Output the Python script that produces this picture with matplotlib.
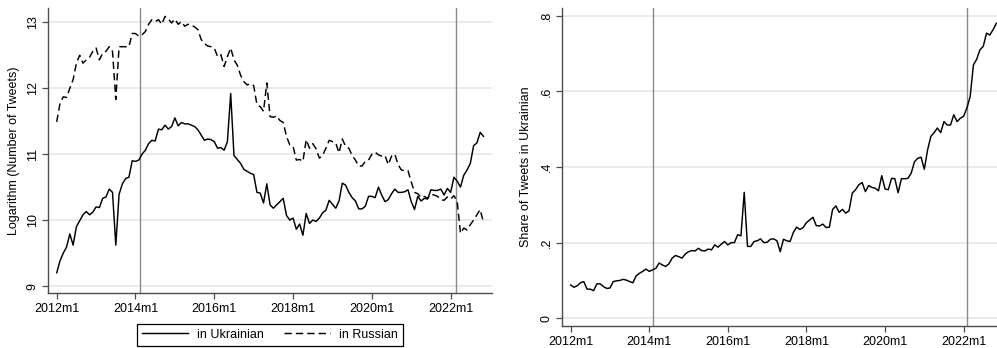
import matplotlib
matplotlib.use("Agg")
import matplotlib.pyplot as plt
import numpy as np

# monthly data, 2012m1 .. 2022m11 (month index 0..130)
log_ukr = [9.20, 9.38, 9.50, 9.59, 9.79, 9.62, 9.90, 9.99, 10.08, 10.13,
           10.08, 10.12, 10.20, 10.19, 10.33, 10.35, 10.47, 10.42, 9.62, 10.39,
           10.55, 10.63, 10.65, 10.90, 10.89, 10.91, 11.00, 11.06, 11.16, 11.21,
           11.20, 11.38, 11.37, 11.44, 11.38, 11.42, 11.55, 11.43, 11.48, 11.46,
           11.46, 11.44, 11.42, 11.37, 11.29, 11.21, 11.23, 11.22, 11.19, 11.09,
           11.10, 11.06, 11.19, 11.92, 10.98, 10.92, 10.86, 10.77, 10.74, 10.71,
           10.69, 10.42, 10.41, 10.26, 10.55, 10.23, 10.18, 10.23, 10.28, 10.33,
           10.07, 10.00, 10.03, 9.86, 9.94, 9.77, 10.10, 9.95, 10.00, 9.98,
           10.03, 10.11, 10.15, 10.30, 10.24, 10.18, 10.29, 10.56, 10.53, 10.42,
           10.34, 10.29, 10.17, 10.17, 10.21, 10.36, 10.36, 10.34, 10.50, 10.38,
           10.28, 10.31, 10.40, 10.47, 10.42, 10.42, 10.43, 10.46, 10.28, 10.16,
           10.36, 10.29, 10.33, 10.32, 10.46, 10.45, 10.45, 10.47, 10.38, 10.48,
           10.42, 10.65, 10.59, 10.50, 10.68, 10.76, 10.86, 11.13, 11.17, 11.33,
           11.27]

log_rus = [11.49, 11.77, 11.87, 11.86, 12.00, 12.13, 12.38, 12.50, 12.38, 12.43,
           12.47, 12.56, 12.61, 12.43, 12.53, 12.56, 12.63, 12.56, 11.83, 12.63,
           12.63, 12.63, 12.63, 12.83, 12.83, 12.79, 12.81, 12.86, 12.97, 13.04,
           13.01, 13.04, 12.97, 13.09, 13.05, 12.99, 13.05, 12.97, 13.01, 12.94,
           12.97, 12.96, 12.93, 12.89, 12.74, 12.68, 12.64, 12.63, 12.61, 12.48,
           12.51, 12.33, 12.48, 12.61, 12.43, 12.35, 12.20, 12.10, 12.05, 12.07,
           12.04, 11.75, 11.72, 11.65, 12.08, 11.57, 11.56, 11.58, 11.51, 11.48,
           11.27, 11.14, 11.12, 10.91, 10.92, 10.89, 11.22, 11.09, 11.16, 11.08,
           10.94, 10.98, 11.09, 11.21, 11.19, 11.17, 11.02, 11.23, 11.12, 11.09,
           10.98, 10.91, 10.82, 10.82, 10.89, 10.91, 11.00, 11.03, 10.99, 10.97,
           10.98, 10.84, 10.97, 11.00, 10.84, 10.76, 10.75, 10.75, 10.58, 10.42,
           10.40, 10.34, 10.36, 10.33, 10.39, 10.38, 10.36, 10.31, 10.30, 10.35,
           10.32, 10.37, 10.28, 9.80, 9.88, 9.85, 9.93, 10.00, 10.08, 10.16,
           9.96]

share_ukr = [0.088, 0.082, 0.086, 0.094, 0.097, 0.077, 0.077, 0.073, 0.091, 0.091,
             0.084, 0.079, 0.080, 0.097, 0.099, 0.100, 0.103, 0.101, 0.097, 0.094,
             0.112, 0.119, 0.124, 0.130, 0.124, 0.128, 0.132, 0.146, 0.141, 0.137,
             0.144, 0.159, 0.166, 0.163, 0.159, 0.170, 0.176, 0.179, 0.178, 0.185,
             0.179, 0.178, 0.183, 0.181, 0.194, 0.188, 0.196, 0.203, 0.194, 0.200,
             0.200, 0.221, 0.218, 0.333, 0.190, 0.190, 0.203, 0.205, 0.210, 0.200,
             0.201, 0.209, 0.210, 0.205, 0.176, 0.209, 0.205, 0.203, 0.227, 0.241,
             0.235, 0.240, 0.253, 0.260, 0.267, 0.245, 0.244, 0.249, 0.240, 0.241,
             0.288, 0.297, 0.280, 0.288, 0.278, 0.284, 0.331, 0.340, 0.353, 0.359,
             0.335, 0.351, 0.346, 0.344, 0.337, 0.377, 0.342, 0.340, 0.370, 0.369,
             0.332, 0.369, 0.369, 0.370, 0.384, 0.414, 0.423, 0.426, 0.394, 0.445,
             0.481, 0.491, 0.503, 0.491, 0.520, 0.511, 0.511, 0.538, 0.520, 0.529,
             0.534, 0.556, 0.586, 0.670, 0.685, 0.710, 0.719, 0.754, 0.749, 0.763,
             0.780]

months = np.arange(len(log_ukr))
xtick_pos = [0, 24, 48, 72, 96, 120]
xtick_labels = ["2012m1", "2014m1", "2016m1", "2018m1", "2020m1", "2022m1"]

plt.rcParams['font.family'] = ['Liberation Sans', 'DejaVu Sans']
plt.rcParams['font.size'] = 9

W, H = 997, 348
fig = plt.figure(figsize=(W / 100, H / 100), dpi=100)

grid_col = "#e8e8e8"
vline_col = "#8a8a8a"
spine_col = "#4d4d4d"


def style_axis(ax):
    for s in ["top", "right"]:
        ax.spines[s].set_visible(False)
    for s in ["left", "bottom"]:
        ax.spines[s].set_color(spine_col)
        ax.spines[s].set_linewidth(1.0)
    ax.tick_params(axis="both", colors=spine_col, length=4, width=0.9,
                   labelcolor="black", labelsize=9)
    ax.tick_params(axis="y", pad=3)
    ax.tick_params(axis="x", pad=3)
    ax.grid(axis="y", color=grid_col, linewidth=1.3)
    ax.set_axisbelow(True)
    ax.set_xticks(xtick_pos)
    ax.set_xticklabels(xtick_labels)
    plt.setp(ax.get_yticklabels(), rotation=90, va="center")


# left panel: log counts
ax1 = fig.add_axes([48.3 / W, 1 - 293 / H, (492 - 48.3) / W, 285 / H])
ax1.axvline(25.5, color=vline_col, lw=1.0, zorder=1)
ax1.axvline(121.5, color=vline_col, lw=1.0, zorder=1)
l1, = ax1.plot(months, log_ukr, color="black", lw=1.05, label="in Ukrainian", zorder=3)
l2, = ax1.plot(months, log_rus, color="black", lw=1.05, dashes=(5, 2.8),
               label="in Russian", zorder=3)
ax1.set_xlim(-2.56, 132.6)
ax1.set_ylim(8.894, 13.217)
ax1.set_yticks([9, 10, 11, 12, 13])
style_axis(ax1)
ax1.set_ylabel("Logarithm (Number of Tweets)", fontsize=9)
ax1.yaxis.set_label_coords(-0.064, 0.5)

fig.legend(handles=[l1, l2], loc="center", bbox_to_anchor=(270 / W, 1 - 334.5 / H),
           ncol=2, frameon=True, fancybox=False, edgecolor="black", framealpha=1,
           handlelength=3.7, handletextpad=0.7, columnspacing=1.6, borderpad=0.4,
           fontsize=9).get_frame().set_linewidth(0.9)

# right panel: share in Ukrainian
ax2 = fig.add_axes([562.3 / W, 1 - 326 / H, (997 - 562.3) / W, 318 / H])
ax2.axvline(25, color=vline_col, lw=1.0, zorder=1)
ax2.axvline(121, color=vline_col, lw=1.0, zorder=1)
ax2.plot(months, share_ukr, color="black", lw=1.05, zorder=3)
ax2.set_xlim(-2.56, 130.2)
ax2.set_ylim(-0.0204, 0.8204)
ax2.set_yticks([0, 0.2, 0.4, 0.6, 0.8])
ax2.set_yticklabels(["0", ".2", ".4", ".6", ".8"])
style_axis(ax2)
ax2.set_ylabel("Share of Tweets in Ukrainian", fontsize=9)
ax2.yaxis.set_label_coords(-0.07, 0.5)

fig.savefig("out.png", dpi=100)
